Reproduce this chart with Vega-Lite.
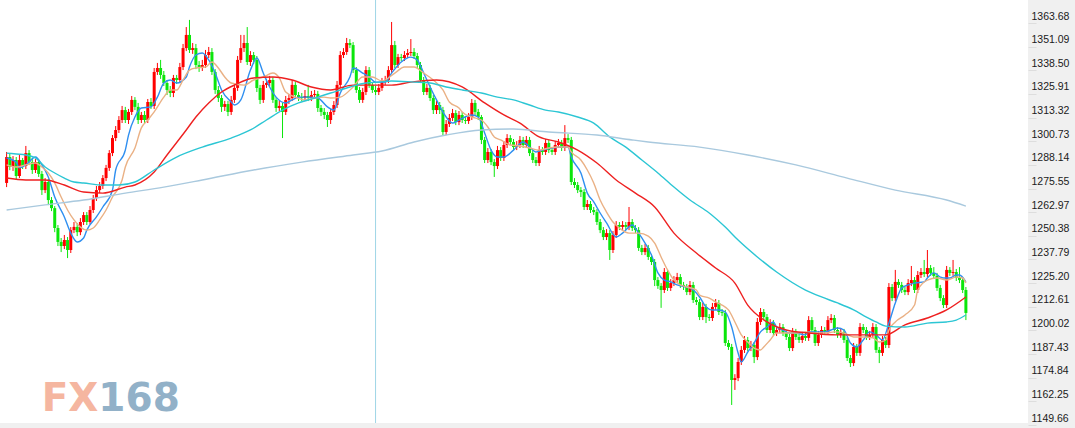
{
  "$schema": "https://vega.github.io/schema/vega-lite/v6.json",
  "width": 1028,
  "height": 423,
  "autosize": {"type": "none"},
  "padding": {"left": 0, "top": 0, "right": 47, "bottom": 5},
  "background": "#f0f0f0",
  "view": {"fill": "#ffffff", "stroke": null},
  "config": {"axis": {"grid": false}},
  "datasets": {
    "candles": [
      {"i":0,"o":1274.8,"h":1291.3,"l":1272.6,"c":1288.6},
      {"i":1,"o":1288.6,"h":1290.2,"l":1281.6,"c":1283.3},
      {"i":2,"o":1283.3,"h":1289.1,"l":1281.2,"c":1287.0},
      {"i":3,"o":1287.0,"h":1288.6,"l":1276.9,"c":1278.5},
      {"i":4,"o":1278.5,"h":1289.7,"l":1277.4,"c":1287.0},
      {"i":5,"o":1287.0,"h":1288.1,"l":1282.2,"c":1283.8},
      {"i":6,"o":1283.8,"h":1294.5,"l":1282.2,"c":1290.7},
      {"i":7,"o":1290.7,"h":1292.3,"l":1284.3,"c":1285.9},
      {"i":8,"o":1285.9,"h":1287.5,"l":1279.6,"c":1281.7},
      {"i":9,"o":1281.7,"h":1287.5,"l":1280.1,"c":1285.9},
      {"i":10,"o":1285.9,"h":1287.0,"l":1278.0,"c":1279.6},
      {"i":11,"o":1279.6,"h":1281.2,"l":1268.4,"c":1271.0},
      {"i":12,"o":1271.0,"h":1277.4,"l":1269.4,"c":1275.3},
      {"i":13,"o":1275.3,"h":1276.9,"l":1263.0,"c":1265.7},
      {"i":14,"o":1265.7,"h":1267.3,"l":1259.8,"c":1261.4},
      {"i":15,"o":1261.4,"h":1262.5,"l":1248.6,"c":1250.8},
      {"i":16,"o":1250.8,"h":1252.4,"l":1241.2,"c":1243.4},
      {"i":17,"o":1243.4,"h":1245.5,"l":1238.0,"c":1241.2},
      {"i":18,"o":1241.2,"h":1247.1,"l":1239.6,"c":1244.4},
      {"i":19,"o":1244.4,"h":1246.0,"l":1234.8,"c":1239.1},
      {"i":20,"o":1239.1,"h":1251.3,"l":1237.5,"c":1249.7},
      {"i":21,"o":1249.7,"h":1254.0,"l":1248.1,"c":1251.4},
      {"i":22,"o":1251.4,"h":1253.5,"l":1246.5,"c":1248.6},
      {"i":23,"o":1248.6,"h":1256.1,"l":1247.0,"c":1254.0},
      {"i":24,"o":1254.0,"h":1259.3,"l":1252.4,"c":1257.7},
      {"i":25,"o":1257.7,"h":1259.3,"l":1252.4,"c":1254.0},
      {"i":26,"o":1254.0,"h":1262.5,"l":1252.9,"c":1260.4},
      {"i":27,"o":1260.4,"h":1268.4,"l":1258.8,"c":1266.8},
      {"i":28,"o":1266.8,"h":1273.2,"l":1265.2,"c":1271.0},
      {"i":29,"o":1271.0,"h":1275.3,"l":1269.4,"c":1273.2},
      {"i":30,"o":1273.2,"h":1279.0,"l":1271.6,"c":1277.4},
      {"i":31,"o":1277.4,"h":1284.4,"l":1275.8,"c":1282.8},
      {"i":32,"o":1282.8,"h":1292.3,"l":1281.2,"c":1290.7},
      {"i":33,"o":1290.7,"h":1300.3,"l":1289.1,"c":1298.7},
      {"i":34,"o":1298.7,"h":1305.1,"l":1297.1,"c":1303.0},
      {"i":35,"o":1303.0,"h":1310.4,"l":1301.4,"c":1308.3},
      {"i":36,"o":1308.3,"h":1315.8,"l":1306.7,"c":1313.6},
      {"i":37,"o":1313.6,"h":1315.3,"l":1306.7,"c":1308.3},
      {"i":38,"o":1308.3,"h":1314.2,"l":1306.2,"c":1312.6},
      {"i":39,"o":1312.6,"h":1321.1,"l":1311.0,"c":1319.0},
      {"i":40,"o":1319.0,"h":1320.5,"l":1313.6,"c":1315.3},
      {"i":41,"o":1315.3,"h":1317.4,"l":1306.2,"c":1308.3},
      {"i":42,"o":1308.3,"h":1312.6,"l":1306.7,"c":1311.0},
      {"i":43,"o":1311.0,"h":1313.1,"l":1306.2,"c":1308.3},
      {"i":44,"o":1308.3,"h":1319.5,"l":1306.7,"c":1317.9},
      {"i":45,"o":1317.9,"h":1320.0,"l":1314.2,"c":1315.8},
      {"i":46,"o":1315.8,"h":1336.0,"l":1314.2,"c":1333.9},
      {"i":47,"o":1333.9,"h":1338.7,"l":1332.3,"c":1336.0},
      {"i":48,"o":1336.0,"h":1340.3,"l":1330.2,"c":1332.3},
      {"i":49,"o":1332.3,"h":1334.4,"l":1326.4,"c":1328.0},
      {"i":50,"o":1328.0,"h":1329.6,"l":1321.6,"c":1324.3},
      {"i":51,"o":1324.3,"h":1326.4,"l":1320.5,"c":1322.7},
      {"i":52,"o":1322.7,"h":1332.3,"l":1320.5,"c":1330.7},
      {"i":53,"o":1330.7,"h":1332.3,"l":1327.5,"c":1329.6},
      {"i":54,"o":1329.6,"h":1338.7,"l":1328.0,"c":1336.5},
      {"i":55,"o":1336.5,"h":1348.8,"l":1334.9,"c":1346.6},
      {"i":56,"o":1346.6,"h":1357.8,"l":1345.0,"c":1353.6},
      {"i":57,"o":1353.6,"h":1361.6,"l":1344.0,"c":1345.6},
      {"i":58,"o":1345.6,"h":1349.3,"l":1343.5,"c":1346.6},
      {"i":59,"o":1346.6,"h":1348.8,"l":1335.4,"c":1337.6},
      {"i":60,"o":1337.6,"h":1339.7,"l":1333.9,"c":1336.0},
      {"i":61,"o":1336.0,"h":1340.3,"l":1334.4,"c":1337.6},
      {"i":62,"o":1337.6,"h":1345.6,"l":1336.0,"c":1342.9},
      {"i":63,"o":1342.9,"h":1347.2,"l":1341.3,"c":1344.5},
      {"i":64,"o":1344.5,"h":1346.6,"l":1332.3,"c":1333.9},
      {"i":65,"o":1333.9,"h":1335.4,"l":1322.2,"c":1324.3},
      {"i":66,"o":1324.3,"h":1326.4,"l":1317.9,"c":1320.0},
      {"i":67,"o":1320.0,"h":1321.6,"l":1312.6,"c":1315.3},
      {"i":68,"o":1315.3,"h":1318.5,"l":1313.1,"c":1316.8},
      {"i":69,"o":1316.8,"h":1318.5,"l":1310.4,"c":1312.6},
      {"i":70,"o":1312.6,"h":1321.1,"l":1311.0,"c":1319.0},
      {"i":71,"o":1319.0,"h":1327.5,"l":1317.4,"c":1325.4},
      {"i":72,"o":1325.4,"h":1342.4,"l":1323.8,"c":1340.3},
      {"i":73,"o":1340.3,"h":1353.6,"l":1338.7,"c":1346.6},
      {"i":74,"o":1346.6,"h":1353.6,"l":1344.5,"c":1349.3},
      {"i":75,"o":1349.3,"h":1357.8,"l":1337.6,"c":1339.2},
      {"i":76,"o":1339.2,"h":1345.0,"l":1337.1,"c":1342.9},
      {"i":77,"o":1342.9,"h":1344.5,"l":1338.1,"c":1340.3},
      {"i":78,"o":1340.3,"h":1342.4,"l":1323.2,"c":1325.4},
      {"i":79,"o":1325.4,"h":1327.0,"l":1316.8,"c":1319.0},
      {"i":80,"o":1319.0,"h":1329.1,"l":1317.4,"c":1327.0},
      {"i":81,"o":1327.0,"h":1330.2,"l":1325.4,"c":1328.0},
      {"i":82,"o":1328.0,"h":1331.8,"l":1326.4,"c":1329.6},
      {"i":83,"o":1329.6,"h":1331.2,"l":1317.4,"c":1319.0},
      {"i":84,"o":1319.0,"h":1320.5,"l":1312.6,"c":1314.7},
      {"i":85,"o":1314.7,"h":1318.5,"l":1313.1,"c":1315.8},
      {"i":86,"o":1315.8,"h":1317.4,"l":1298.7,"c":1312.6},
      {"i":87,"o":1312.6,"h":1321.1,"l":1311.0,"c":1319.0},
      {"i":88,"o":1319.0,"h":1322.2,"l":1316.8,"c":1320.0},
      {"i":89,"o":1320.0,"h":1329.6,"l":1318.4,"c":1327.0},
      {"i":90,"o":1327.0,"h":1328.5,"l":1320.0,"c":1321.6},
      {"i":91,"o":1321.6,"h":1323.2,"l":1318.4,"c":1320.5},
      {"i":92,"o":1320.5,"h":1322.7,"l":1318.4,"c":1320.0},
      {"i":93,"o":1320.0,"h":1324.3,"l":1318.9,"c":1321.1},
      {"i":94,"o":1321.1,"h":1327.0,"l":1318.4,"c":1320.0},
      {"i":95,"o":1320.0,"h":1323.8,"l":1318.4,"c":1321.6},
      {"i":96,"o":1321.6,"h":1324.3,"l":1319.5,"c":1322.2},
      {"i":97,"o":1322.2,"h":1323.8,"l":1312.6,"c":1314.7},
      {"i":98,"o":1314.7,"h":1316.3,"l":1310.4,"c":1312.6},
      {"i":99,"o":1312.6,"h":1314.7,"l":1308.8,"c":1311.0},
      {"i":100,"o":1311.0,"h":1312.6,"l":1304.6,"c":1308.3},
      {"i":101,"o":1308.3,"h":1314.2,"l":1306.2,"c":1312.6},
      {"i":102,"o":1312.6,"h":1318.4,"l":1311.0,"c":1316.3},
      {"i":103,"o":1316.3,"h":1329.1,"l":1314.7,"c":1327.0},
      {"i":104,"o":1327.0,"h":1345.0,"l":1325.4,"c":1342.9},
      {"i":105,"o":1342.9,"h":1346.6,"l":1341.3,"c":1344.5},
      {"i":106,"o":1344.5,"h":1352.0,"l":1343.0,"c":1349.3},
      {"i":107,"o":1349.3,"h":1351.4,"l":1346.6,"c":1348.2},
      {"i":108,"o":1348.2,"h":1349.8,"l":1333.3,"c":1334.9},
      {"i":109,"o":1334.9,"h":1336.5,"l":1322.7,"c":1324.3},
      {"i":110,"o":1324.3,"h":1325.9,"l":1317.4,"c":1319.0},
      {"i":111,"o":1319.0,"h":1325.4,"l":1317.4,"c":1323.2},
      {"i":112,"o":1323.2,"h":1337.0,"l":1321.6,"c":1334.9},
      {"i":113,"o":1334.9,"h":1336.5,"l":1325.4,"c":1327.0},
      {"i":114,"o":1327.0,"h":1328.5,"l":1322.7,"c":1324.3},
      {"i":115,"o":1324.3,"h":1326.4,"l":1321.6,"c":1323.2},
      {"i":116,"o":1323.2,"h":1327.5,"l":1321.6,"c":1325.4},
      {"i":117,"o":1325.4,"h":1330.7,"l":1323.8,"c":1328.5},
      {"i":118,"o":1328.5,"h":1331.8,"l":1326.9,"c":1329.6},
      {"i":119,"o":1329.6,"h":1337.0,"l":1328.0,"c":1334.9},
      {"i":120,"o":1334.9,"h":1360.5,"l":1333.3,"c":1348.2},
      {"i":121,"o":1348.2,"h":1350.4,"l":1336.0,"c":1337.6},
      {"i":122,"o":1337.6,"h":1343.5,"l":1336.0,"c":1341.8},
      {"i":123,"o":1341.8,"h":1343.5,"l":1339.7,"c":1341.3},
      {"i":124,"o":1341.3,"h":1345.0,"l":1339.7,"c":1342.9},
      {"i":125,"o":1342.9,"h":1346.1,"l":1341.3,"c":1344.0},
      {"i":126,"o":1344.0,"h":1351.4,"l":1342.4,"c":1344.5},
      {"i":127,"o":1344.5,"h":1346.6,"l":1340.8,"c":1342.4},
      {"i":128,"o":1342.4,"h":1344.0,"l":1336.0,"c":1337.6},
      {"i":129,"o":1337.6,"h":1339.2,"l":1328.0,"c":1329.6},
      {"i":130,"o":1329.6,"h":1331.2,"l":1321.6,"c":1323.2},
      {"i":131,"o":1323.2,"h":1327.5,"l":1321.6,"c":1325.4},
      {"i":132,"o":1325.4,"h":1327.0,"l":1318.4,"c":1320.0},
      {"i":133,"o":1320.0,"h":1321.6,"l":1311.5,"c":1313.6},
      {"i":134,"o":1313.6,"h":1318.4,"l":1311.5,"c":1316.3},
      {"i":135,"o":1316.3,"h":1317.9,"l":1311.5,"c":1313.6},
      {"i":136,"o":1313.6,"h":1315.3,"l":1300.3,"c":1301.9},
      {"i":137,"o":1301.9,"h":1308.3,"l":1300.3,"c":1306.2},
      {"i":138,"o":1306.2,"h":1311.5,"l":1304.6,"c":1309.4},
      {"i":139,"o":1309.4,"h":1314.2,"l":1307.8,"c":1312.0},
      {"i":140,"o":1312.0,"h":1313.6,"l":1305.6,"c":1307.2},
      {"i":141,"o":1307.2,"h":1313.1,"l":1305.6,"c":1311.0},
      {"i":142,"o":1311.0,"h":1312.6,"l":1306.7,"c":1308.3},
      {"i":143,"o":1308.3,"h":1310.4,"l":1306.2,"c":1307.8},
      {"i":144,"o":1307.8,"h":1312.0,"l":1306.2,"c":1309.9},
      {"i":145,"o":1309.9,"h":1319.5,"l":1308.3,"c":1317.4},
      {"i":146,"o":1317.4,"h":1319.0,"l":1311.0,"c":1312.6},
      {"i":147,"o":1312.6,"h":1314.2,"l":1308.3,"c":1309.9},
      {"i":148,"o":1309.9,"h":1311.0,"l":1295.5,"c":1297.7},
      {"i":149,"o":1297.7,"h":1299.3,"l":1285.4,"c":1287.0},
      {"i":150,"o":1287.0,"h":1293.4,"l":1285.4,"c":1291.3},
      {"i":151,"o":1291.3,"h":1292.9,"l":1284.3,"c":1285.9},
      {"i":152,"o":1285.9,"h":1287.5,"l":1278.0,"c":1283.8},
      {"i":153,"o":1283.8,"h":1294.5,"l":1282.2,"c":1292.3},
      {"i":154,"o":1292.3,"h":1293.9,"l":1286.5,"c":1288.1},
      {"i":155,"o":1288.1,"h":1297.1,"l":1286.5,"c":1295.0},
      {"i":156,"o":1295.0,"h":1300.8,"l":1293.4,"c":1298.7},
      {"i":157,"o":1298.7,"h":1300.3,"l":1295.0,"c":1296.6},
      {"i":158,"o":1296.6,"h":1298.2,"l":1292.3,"c":1293.9},
      {"i":159,"o":1293.9,"h":1297.1,"l":1292.3,"c":1295.0},
      {"i":160,"o":1295.0,"h":1299.8,"l":1293.4,"c":1297.7},
      {"i":161,"o":1297.7,"h":1299.3,"l":1293.4,"c":1295.0},
      {"i":162,"o":1295.0,"h":1299.8,"l":1293.4,"c":1297.7},
      {"i":163,"o":1297.7,"h":1299.3,"l":1289.1,"c":1290.7},
      {"i":164,"o":1290.7,"h":1292.3,"l":1285.4,"c":1287.0},
      {"i":165,"o":1287.0,"h":1288.6,"l":1283.8,"c":1285.4},
      {"i":166,"o":1285.4,"h":1294.5,"l":1283.8,"c":1292.3},
      {"i":167,"o":1292.3,"h":1293.9,"l":1289.7,"c":1291.3},
      {"i":168,"o":1291.3,"h":1298.2,"l":1289.7,"c":1296.1},
      {"i":169,"o":1296.1,"h":1297.7,"l":1290.7,"c":1292.3},
      {"i":170,"o":1292.3,"h":1293.9,"l":1289.7,"c":1291.3},
      {"i":171,"o":1291.3,"h":1297.1,"l":1289.7,"c":1295.0},
      {"i":172,"o":1295.0,"h":1298.2,"l":1293.4,"c":1296.1},
      {"i":173,"o":1296.1,"h":1297.7,"l":1291.8,"c":1293.4},
      {"i":174,"o":1293.4,"h":1305.6,"l":1291.8,"c":1298.7},
      {"i":175,"o":1298.7,"h":1300.8,"l":1296.1,"c":1297.7},
      {"i":176,"o":1297.7,"h":1299.3,"l":1273.7,"c":1275.3},
      {"i":177,"o":1275.3,"h":1277.4,"l":1272.1,"c":1273.7},
      {"i":178,"o":1273.7,"h":1275.3,"l":1269.4,"c":1271.0},
      {"i":179,"o":1271.0,"h":1272.6,"l":1267.3,"c":1270.0},
      {"i":180,"o":1270.0,"h":1271.6,"l":1260.4,"c":1262.0},
      {"i":181,"o":1262.0,"h":1265.7,"l":1260.4,"c":1263.6},
      {"i":182,"o":1263.6,"h":1265.2,"l":1258.8,"c":1260.4},
      {"i":183,"o":1260.4,"h":1262.0,"l":1257.7,"c":1259.3},
      {"i":184,"o":1259.3,"h":1260.9,"l":1252.4,"c":1254.0},
      {"i":185,"o":1254.0,"h":1255.6,"l":1248.1,"c":1249.7},
      {"i":186,"o":1249.7,"h":1251.3,"l":1244.4,"c":1246.0},
      {"i":187,"o":1246.0,"h":1250.2,"l":1244.4,"c":1248.1},
      {"i":188,"o":1248.1,"h":1249.7,"l":1233.8,"c":1239.1},
      {"i":189,"o":1239.1,"h":1249.2,"l":1237.5,"c":1247.1},
      {"i":190,"o":1247.1,"h":1254.5,"l":1245.5,"c":1252.4},
      {"i":191,"o":1252.4,"h":1254.0,"l":1249.7,"c":1251.4},
      {"i":192,"o":1251.4,"h":1254.5,"l":1249.7,"c":1252.4},
      {"i":193,"o":1252.4,"h":1254.0,"l":1249.7,"c":1251.4},
      {"i":194,"o":1251.4,"h":1262.0,"l":1249.7,"c":1254.0},
      {"i":195,"o":1254.0,"h":1255.6,"l":1249.2,"c":1250.8},
      {"i":196,"o":1250.8,"h":1252.4,"l":1248.1,"c":1249.7},
      {"i":197,"o":1249.7,"h":1251.3,"l":1238.6,"c":1240.2},
      {"i":198,"o":1240.2,"h":1241.8,"l":1236.4,"c":1238.0},
      {"i":199,"o":1238.0,"h":1242.3,"l":1236.4,"c":1240.2},
      {"i":200,"o":1240.2,"h":1241.8,"l":1233.8,"c":1235.4},
      {"i":201,"o":1235.4,"h":1237.0,"l":1231.1,"c":1232.7},
      {"i":202,"o":1232.7,"h":1234.3,"l":1219.9,"c":1223.1},
      {"i":203,"o":1223.1,"h":1224.7,"l":1218.4,"c":1220.0},
      {"i":204,"o":1220.0,"h":1221.5,"l":1208.3,"c":1217.8},
      {"i":205,"o":1217.8,"h":1229.5,"l":1216.2,"c":1227.4},
      {"i":206,"o":1227.4,"h":1229.0,"l":1217.3,"c":1218.9},
      {"i":207,"o":1218.9,"h":1223.6,"l":1217.3,"c":1221.5},
      {"i":208,"o":1221.5,"h":1225.2,"l":1219.9,"c":1223.1},
      {"i":209,"o":1223.1,"h":1226.9,"l":1221.5,"c":1224.7},
      {"i":210,"o":1224.7,"h":1226.3,"l":1218.9,"c":1220.5},
      {"i":211,"o":1220.5,"h":1222.1,"l":1217.8,"c":1219.4},
      {"i":212,"o":1219.4,"h":1221.0,"l":1215.1,"c":1216.7},
      {"i":213,"o":1216.7,"h":1222.6,"l":1215.1,"c":1220.5},
      {"i":214,"o":1220.5,"h":1222.1,"l":1210.9,"c":1212.5},
      {"i":215,"o":1212.5,"h":1214.1,"l":1209.8,"c":1211.4},
      {"i":216,"o":1211.4,"h":1213.0,"l":1201.8,"c":1203.4},
      {"i":217,"o":1203.4,"h":1210.9,"l":1201.8,"c":1208.8},
      {"i":218,"o":1208.8,"h":1210.4,"l":1200.2,"c":1203.4},
      {"i":219,"o":1203.4,"h":1205.0,"l":1201.3,"c":1202.9},
      {"i":220,"o":1202.9,"h":1210.9,"l":1201.3,"c":1208.8},
      {"i":221,"o":1208.8,"h":1213.0,"l":1207.2,"c":1210.9},
      {"i":222,"o":1210.9,"h":1212.5,"l":1204.5,"c":1206.1},
      {"i":223,"o":1206.1,"h":1207.7,"l":1203.9,"c":1205.6},
      {"i":224,"o":1205.6,"h":1207.2,"l":1188.0,"c":1189.6},
      {"i":225,"o":1189.6,"h":1191.2,"l":1185.9,"c":1187.5},
      {"i":226,"o":1187.5,"h":1189.1,"l":1156.6,"c":1169.9},
      {"i":227,"o":1169.9,"h":1173.0,"l":1164.6,"c":1170.9},
      {"i":228,"o":1170.9,"h":1181.6,"l":1169.3,"c":1179.5},
      {"i":229,"o":1179.5,"h":1188.0,"l":1177.9,"c":1185.9},
      {"i":230,"o":1185.9,"h":1193.3,"l":1184.3,"c":1191.2},
      {"i":231,"o":1191.2,"h":1192.8,"l":1185.3,"c":1186.9},
      {"i":232,"o":1186.9,"h":1190.7,"l":1185.3,"c":1188.5},
      {"i":233,"o":1188.5,"h":1190.1,"l":1178.9,"c":1182.1},
      {"i":234,"o":1182.1,"h":1202.9,"l":1180.5,"c":1200.8},
      {"i":235,"o":1200.8,"h":1208.2,"l":1199.2,"c":1206.1},
      {"i":236,"o":1206.1,"h":1207.7,"l":1201.8,"c":1203.4},
      {"i":237,"o":1203.4,"h":1205.0,"l":1194.9,"c":1196.5},
      {"i":238,"o":1196.5,"h":1202.3,"l":1194.9,"c":1200.2},
      {"i":239,"o":1200.2,"h":1201.8,"l":1193.3,"c":1194.9},
      {"i":240,"o":1194.9,"h":1198.6,"l":1193.3,"c":1196.5},
      {"i":241,"o":1196.5,"h":1200.2,"l":1194.9,"c":1198.1},
      {"i":242,"o":1198.1,"h":1199.7,"l":1193.3,"c":1194.9},
      {"i":243,"o":1194.9,"h":1196.5,"l":1191.2,"c":1192.8},
      {"i":244,"o":1192.8,"h":1194.4,"l":1185.3,"c":1186.9},
      {"i":245,"o":1186.9,"h":1197.6,"l":1185.3,"c":1195.5},
      {"i":246,"o":1195.5,"h":1197.1,"l":1191.2,"c":1192.8},
      {"i":247,"o":1192.8,"h":1194.4,"l":1189.6,"c":1191.2},
      {"i":248,"o":1191.2,"h":1195.5,"l":1189.6,"c":1193.3},
      {"i":249,"o":1193.3,"h":1194.9,"l":1190.7,"c":1192.3},
      {"i":250,"o":1192.3,"h":1203.9,"l":1190.7,"c":1201.8},
      {"i":251,"o":1201.8,"h":1203.4,"l":1194.9,"c":1196.5},
      {"i":252,"o":1196.5,"h":1198.1,"l":1188.0,"c":1189.6},
      {"i":253,"o":1189.6,"h":1196.0,"l":1188.0,"c":1193.9},
      {"i":254,"o":1193.9,"h":1198.6,"l":1192.3,"c":1196.5},
      {"i":255,"o":1196.5,"h":1198.1,"l":1193.9,"c":1195.5},
      {"i":256,"o":1195.5,"h":1203.9,"l":1193.9,"c":1201.8},
      {"i":257,"o":1201.8,"h":1205.0,"l":1200.2,"c":1202.9},
      {"i":258,"o":1202.9,"h":1204.5,"l":1194.9,"c":1196.5},
      {"i":259,"o":1196.5,"h":1198.1,"l":1192.3,"c":1193.9},
      {"i":260,"o":1193.9,"h":1197.6,"l":1192.3,"c":1195.5},
      {"i":261,"o":1195.5,"h":1197.1,"l":1189.6,"c":1191.2},
      {"i":262,"o":1191.2,"h":1192.8,"l":1180.0,"c":1181.6},
      {"i":263,"o":1181.6,"h":1183.2,"l":1176.8,"c":1178.9},
      {"i":264,"o":1178.9,"h":1189.6,"l":1177.3,"c":1187.5},
      {"i":265,"o":1187.5,"h":1189.1,"l":1182.7,"c":1184.3},
      {"i":266,"o":1184.3,"h":1200.2,"l":1182.7,"c":1198.1},
      {"i":267,"o":1198.1,"h":1199.7,"l":1194.9,"c":1196.5},
      {"i":268,"o":1196.5,"h":1198.1,"l":1191.2,"c":1192.8},
      {"i":269,"o":1192.8,"h":1196.0,"l":1191.2,"c":1193.9},
      {"i":270,"o":1193.9,"h":1200.2,"l":1192.3,"c":1198.1},
      {"i":271,"o":1198.1,"h":1199.7,"l":1184.3,"c":1185.9},
      {"i":272,"o":1185.9,"h":1187.5,"l":1178.9,"c":1184.3},
      {"i":273,"o":1184.3,"h":1193.3,"l":1182.7,"c":1191.2},
      {"i":274,"o":1191.2,"h":1192.8,"l":1186.9,"c":1188.5},
      {"i":275,"o":1188.5,"h":1221.5,"l":1186.9,"c":1219.4},
      {"i":276,"o":1219.4,"h":1221.0,"l":1211.9,"c":1213.5},
      {"i":277,"o":1213.5,"h":1228.5,"l":1211.9,"c":1222.1},
      {"i":278,"o":1222.1,"h":1223.6,"l":1218.9,"c":1220.5},
      {"i":279,"o":1220.5,"h":1222.1,"l":1216.2,"c":1217.8},
      {"i":280,"o":1217.8,"h":1219.4,"l":1215.1,"c":1216.7},
      {"i":281,"o":1216.7,"h":1223.6,"l":1215.1,"c":1221.5},
      {"i":282,"o":1221.5,"h":1230.6,"l":1219.9,"c":1223.1},
      {"i":283,"o":1223.1,"h":1224.7,"l":1216.2,"c":1217.8},
      {"i":284,"o":1217.8,"h":1227.9,"l":1216.2,"c":1225.8},
      {"i":285,"o":1225.8,"h":1229.5,"l":1224.2,"c":1227.4},
      {"i":286,"o":1227.4,"h":1233.8,"l":1224.7,"c":1226.3},
      {"i":287,"o":1226.3,"h":1239.1,"l":1224.7,"c":1229.5},
      {"i":288,"o":1229.5,"h":1231.1,"l":1225.3,"c":1226.9},
      {"i":289,"o":1226.9,"h":1230.0,"l":1223.7,"c":1225.3},
      {"i":290,"o":1225.3,"h":1226.9,"l":1217.3,"c":1218.9},
      {"i":291,"o":1218.9,"h":1220.5,"l":1211.9,"c":1213.5},
      {"i":292,"o":1213.5,"h":1215.1,"l":1208.2,"c":1209.8},
      {"i":293,"o":1209.8,"h":1230.6,"l":1208.2,"c":1228.5},
      {"i":294,"o":1228.5,"h":1230.0,"l":1225.3,"c":1226.9},
      {"i":295,"o":1226.9,"h":1233.8,"l":1225.3,"c":1227.4},
      {"i":296,"o":1227.4,"h":1229.0,"l":1222.6,"c":1224.2},
      {"i":297,"o":1224.2,"h":1230.0,"l":1221.5,"c":1223.1},
      {"i":298,"o":1223.1,"h":1224.7,"l":1216.2,"c":1217.8},
      {"i":299,"o":1217.8,"h":1219.4,"l":1201.8,"c":1205.6}
    ],
    "ma": [
      {"s":"MA5","i":0,"v":1288.1},{"s":"MA5","i":3,"v":1285.9},{"s":"MA5","i":4,"v":1282.8},{"s":"MA5","i":6,"v":1284.4},{"s":"MA5","i":9,"v":1288.6},{"s":"MA5","i":11,"v":1284.4},{"s":"MA5","i":13,"v":1278.0},{"s":"MA5","i":15,"v":1267.3},{"s":"MA5","i":18,"v":1256.7},{"s":"MA5","i":20,"v":1248.1},{"s":"MA5","i":22,"v":1243.4},{"s":"MA5","i":24,"v":1245.5},{"s":"MA5","i":25,"v":1249.7},{"s":"MA5","i":28,"v":1256.7},{"s":"MA5","i":30,"v":1262.0},{"s":"MA5","i":33,"v":1271.0},{"s":"MA5","i":34,"v":1281.7},{"s":"MA5","i":37,"v":1292.3},{"s":"MA5","i":38,"v":1300.3},{"s":"MA5","i":40,"v":1309.9},{"s":"MA5","i":42,"v":1314.7},{"s":"MA5","i":45,"v":1315.3},{"s":"MA5","i":47,"v":1320.5},{"s":"MA5","i":49,"v":1328.0},{"s":"MA5","i":51,"v":1329.6},{"s":"MA5","i":53,"v":1328.0},{"s":"MA5","i":56,"v":1331.2},{"s":"MA5","i":57,"v":1336.5},{"s":"MA5","i":59,"v":1342.9},{"s":"MA5","i":61,"v":1344.0},{"s":"MA5","i":63,"v":1340.3},{"s":"MA5","i":65,"v":1333.3},{"s":"MA5","i":67,"v":1324.3},{"s":"MA5","i":70,"v":1317.9},{"s":"MA5","i":71,"v":1316.3},{"s":"MA5","i":73,"v":1319.0},{"s":"MA5","i":76,"v":1334.9},{"s":"MA5","i":78,"v":1341.3},{"s":"MA5","i":80,"v":1333.3},{"s":"MA5","i":82,"v":1325.9},{"s":"MA5","i":84,"v":1320.5},{"s":"MA5","i":87,"v":1317.4},{"s":"MA5","i":89,"v":1319.0},{"s":"MA5","i":91,"v":1320.5},{"s":"MA5","i":94,"v":1320.5},{"s":"MA5","i":97,"v":1320.0},{"s":"MA5","i":100,"v":1315.3},{"s":"MA5","i":102,"v":1313.6},{"s":"MA5","i":104,"v":1322.7},{"s":"MA5","i":107,"v":1331.2},{"s":"MA5","i":108,"v":1336.0},{"s":"MA5","i":111,"v":1333.3},{"s":"MA5","i":113,"v":1331.2},{"s":"MA5","i":115,"v":1328.5},{"s":"MA5","i":118,"v":1328.5},{"s":"MA5","i":120,"v":1333.3},{"s":"MA5","i":123,"v":1339.2},{"s":"MA5","i":126,"v":1341.8},{"s":"MA5","i":128,"v":1340.3},{"s":"MA5","i":130,"v":1333.3},{"s":"MA5","i":132,"v":1325.9},{"s":"MA5","i":134,"v":1319.0},{"s":"MA5","i":137,"v":1309.9},{"s":"MA5","i":139,"v":1306.7},{"s":"MA5","i":141,"v":1308.3},{"s":"MA5","i":145,"v":1311.0},{"s":"MA5","i":147,"v":1309.9},{"s":"MA5","i":149,"v":1301.4},{"s":"MA5","i":151,"v":1292.3},{"s":"MA5","i":153,"v":1288.6},{"s":"MA5","i":155,"v":1288.6},{"s":"MA5","i":158,"v":1292.3},{"s":"MA5","i":161,"v":1296.6},{"s":"MA5","i":163,"v":1293.9},{"s":"MA5","i":165,"v":1291.3},{"s":"MA5","i":167,"v":1292.3},{"s":"MA5","i":170,"v":1293.4},{"s":"MA5","i":173,"v":1293.9},{"s":"MA5","i":175,"v":1293.9},{"s":"MA5","i":176,"v":1288.6},{"s":"MA5","i":179,"v":1280.1},{"s":"MA5","i":181,"v":1269.4},{"s":"MA5","i":183,"v":1264.7},{"s":"MA5","i":185,"v":1258.8},{"s":"MA5","i":187,"v":1253.5},{"s":"MA5","i":190,"v":1246.0},{"s":"MA5","i":192,"v":1248.1},{"s":"MA5","i":195,"v":1252.4},{"s":"MA5","i":197,"v":1248.1},{"s":"MA5","i":199,"v":1242.8},{"s":"MA5","i":201,"v":1236.4},{"s":"MA5","i":203,"v":1226.9},{"s":"MA5","i":205,"v":1223.1},{"s":"MA5","i":207,"v":1222.1},{"s":"MA5","i":209,"v":1220.5},{"s":"MA5","i":212,"v":1219.4},{"s":"MA5","i":213,"v":1218.9},{"s":"MA5","i":216,"v":1214.1},{"s":"MA5","i":218,"v":1208.8},{"s":"MA5","i":220,"v":1207.2},{"s":"MA5","i":222,"v":1207.2},{"s":"MA5","i":224,"v":1206.1},{"s":"MA5","i":226,"v":1198.1},{"s":"MA5","i":228,"v":1184.3},{"s":"MA5","i":229,"v":1179.5},{"s":"MA5","i":231,"v":1184.8},{"s":"MA5","i":233,"v":1189.6},{"s":"MA5","i":235,"v":1195.5},{"s":"MA5","i":237,"v":1198.1},{"s":"MA5","i":239,"v":1200.8},{"s":"MA5","i":240,"v":1198.1},{"s":"MA5","i":242,"v":1196.5},{"s":"MA5","i":244,"v":1194.9},{"s":"MA5","i":246,"v":1194.9},{"s":"MA5","i":249,"v":1193.9},{"s":"MA5","i":250,"v":1195.5},{"s":"MA5","i":253,"v":1195.5},{"s":"MA5","i":255,"v":1195.5},{"s":"MA5","i":257,"v":1196.5},{"s":"MA5","i":259,"v":1197.6},{"s":"MA5","i":261,"v":1196.5},{"s":"MA5","i":263,"v":1189.6},{"s":"MA5","i":265,"v":1187.5},{"s":"MA5","i":267,"v":1191.2},{"s":"MA5","i":269,"v":1195.5},{"s":"MA5","i":271,"v":1193.9},{"s":"MA5","i":273,"v":1191.2},{"s":"MA5","i":275,"v":1200.2},{"s":"MA5","i":277,"v":1210.9},{"s":"MA5","i":279,"v":1218.9},{"s":"MA5","i":281,"v":1220.5},{"s":"MA5","i":283,"v":1221.5},{"s":"MA5","i":286,"v":1222.1},{"s":"MA5","i":287,"v":1224.2},{"s":"MA5","i":289,"v":1226.9},{"s":"MA5","i":291,"v":1224.7},{"s":"MA5","i":292,"v":1224.2},{"s":"MA5","i":294,"v":1224.2},{"s":"MA5","i":296,"v":1225.8},{"s":"MA5","i":297,"v":1225.8},{"s":"MA5","i":299,"v":1222.1},
      {"s":"MA10","i":0,"v":1284.4},{"s":"MA10","i":3,"v":1283.3},{"s":"MA10","i":6,"v":1284.4},{"s":"MA10","i":9,"v":1285.4},{"s":"MA10","i":11,"v":1283.3},{"s":"MA10","i":13,"v":1280.1},{"s":"MA10","i":15,"v":1274.8},{"s":"MA10","i":17,"v":1267.3},{"s":"MA10","i":19,"v":1260.4},{"s":"MA10","i":21,"v":1255.1},{"s":"MA10","i":23,"v":1251.3},{"s":"MA10","i":25,"v":1249.7},{"s":"MA10","i":27,"v":1250.8},{"s":"MA10","i":29,"v":1255.1},{"s":"MA10","i":31,"v":1260.4},{"s":"MA10","i":33,"v":1267.3},{"s":"MA10","i":36,"v":1276.4},{"s":"MA10","i":37,"v":1283.3},{"s":"MA10","i":40,"v":1293.4},{"s":"MA10","i":42,"v":1304.1},{"s":"MA10","i":44,"v":1308.3},{"s":"MA10","i":46,"v":1312.6},{"s":"MA10","i":49,"v":1320.5},{"s":"MA10","i":51,"v":1324.3},{"s":"MA10","i":53,"v":1324.3},{"s":"MA10","i":55,"v":1329.6},{"s":"MA10","i":57,"v":1334.9},{"s":"MA10","i":59,"v":1336.0},{"s":"MA10","i":62,"v":1336.5},{"s":"MA10","i":64,"v":1339.2},{"s":"MA10","i":66,"v":1336.0},{"s":"MA10","i":68,"v":1331.2},{"s":"MA10","i":70,"v":1328.0},{"s":"MA10","i":74,"v":1326.9},{"s":"MA10","i":77,"v":1329.6},{"s":"MA10","i":80,"v":1331.2},{"s":"MA10","i":83,"v":1333.3},{"s":"MA10","i":85,"v":1330.7},{"s":"MA10","i":87,"v":1323.2},{"s":"MA10","i":90,"v":1320.5},{"s":"MA10","i":93,"v":1319.0},{"s":"MA10","i":96,"v":1320.0},{"s":"MA10","i":99,"v":1320.5},{"s":"MA10","i":101,"v":1320.0},{"s":"MA10","i":104,"v":1320.5},{"s":"MA10","i":108,"v":1325.9},{"s":"MA10","i":111,"v":1331.2},{"s":"MA10","i":114,"v":1331.2},{"s":"MA10","i":117,"v":1329.1},{"s":"MA10","i":121,"v":1333.3},{"s":"MA10","i":124,"v":1336.5},{"s":"MA10","i":127,"v":1336.5},{"s":"MA10","i":130,"v":1333.3},{"s":"MA10","i":133,"v":1329.6},{"s":"MA10","i":136,"v":1324.3},{"s":"MA10","i":138,"v":1317.9},{"s":"MA10","i":141,"v":1314.7},{"s":"MA10","i":142,"v":1312.6},{"s":"MA10","i":145,"v":1309.9},{"s":"MA10","i":148,"v":1308.3},{"s":"MA10","i":150,"v":1304.6},{"s":"MA10","i":152,"v":1299.3},{"s":"MA10","i":154,"v":1297.7},{"s":"MA10","i":157,"v":1295.0},{"s":"MA10","i":160,"v":1294.5},{"s":"MA10","i":163,"v":1293.4},{"s":"MA10","i":166,"v":1292.3},{"s":"MA10","i":169,"v":1293.4},{"s":"MA10","i":172,"v":1293.9},{"s":"MA10","i":175,"v":1293.9},{"s":"MA10","i":176,"v":1291.3},{"s":"MA10","i":179,"v":1287.0},{"s":"MA10","i":181,"v":1281.7},{"s":"MA10","i":183,"v":1274.8},{"s":"MA10","i":185,"v":1265.7},{"s":"MA10","i":187,"v":1259.3},{"s":"MA10","i":189,"v":1254.0},{"s":"MA10","i":191,"v":1250.8},{"s":"MA10","i":194,"v":1248.1},{"s":"MA10","i":197,"v":1248.1},{"s":"MA10","i":200,"v":1246.5},{"s":"MA10","i":202,"v":1242.8},{"s":"MA10","i":204,"v":1235.4},{"s":"MA10","i":206,"v":1228.5},{"s":"MA10","i":208,"v":1223.1},{"s":"MA10","i":210,"v":1220.5},{"s":"MA10","i":212,"v":1219.4},{"s":"MA10","i":215,"v":1217.8},{"s":"MA10","i":216,"v":1215.1},{"s":"MA10","i":219,"v":1213.5},{"s":"MA10","i":221,"v":1211.4},{"s":"MA10","i":223,"v":1209.8},{"s":"MA10","i":225,"v":1207.2},{"s":"MA10","i":227,"v":1200.8},{"s":"MA10","i":229,"v":1193.9},{"s":"MA10","i":231,"v":1190.1},{"s":"MA10","i":233,"v":1186.9},{"s":"MA10","i":235,"v":1185.9},{"s":"MA10","i":236,"v":1187.5},{"s":"MA10","i":238,"v":1191.2},{"s":"MA10","i":240,"v":1194.9},{"s":"MA10","i":243,"v":1194.9},{"s":"MA10","i":246,"v":1194.9},{"s":"MA10","i":249,"v":1195.5},{"s":"MA10","i":252,"v":1194.9},{"s":"MA10","i":255,"v":1194.9},{"s":"MA10","i":258,"v":1195.5},{"s":"MA10","i":261,"v":1194.9},{"s":"MA10","i":264,"v":1192.8},{"s":"MA10","i":267,"v":1192.8},{"s":"MA10","i":270,"v":1192.3},{"s":"MA10","i":272,"v":1190.1},{"s":"MA10","i":274,"v":1191.2},{"s":"MA10","i":275,"v":1196.5},{"s":"MA10","i":277,"v":1200.8},{"s":"MA10","i":280,"v":1204.5},{"s":"MA10","i":283,"v":1209.8},{"s":"MA10","i":284,"v":1217.8},{"s":"MA10","i":287,"v":1223.1},{"s":"MA10","i":290,"v":1224.2},{"s":"MA10","i":293,"v":1223.1},{"s":"MA10","i":296,"v":1224.7},{"s":"MA10","i":298,"v":1224.2},{"s":"MA10","i":299,"v":1221.5},
      {"s":"MA20","i":0,"v":1277.4},{"s":"MA20","i":6,"v":1276.4},{"s":"MA20","i":12,"v":1276.4},{"s":"MA20","i":18,"v":1273.7},{"s":"MA20","i":24,"v":1270.0},{"s":"MA20","i":30,"v":1269.4},{"s":"MA20","i":37,"v":1272.6},{"s":"MA20","i":40,"v":1273.7},{"s":"MA20","i":46,"v":1280.6},{"s":"MA20","i":50,"v":1289.7},{"s":"MA20","i":56,"v":1303.0},{"s":"MA20","i":59,"v":1309.9},{"s":"MA20","i":63,"v":1317.4},{"s":"MA20","i":67,"v":1323.2},{"s":"MA20","i":71,"v":1326.9},{"s":"MA20","i":77,"v":1330.7},{"s":"MA20","i":83,"v":1331.2},{"s":"MA20","i":89,"v":1329.6},{"s":"MA20","i":95,"v":1325.9},{"s":"MA20","i":101,"v":1324.3},{"s":"MA20","i":108,"v":1326.9},{"s":"MA20","i":114,"v":1326.9},{"s":"MA20","i":120,"v":1326.9},{"s":"MA20","i":126,"v":1328.5},{"s":"MA20","i":134,"v":1329.6},{"s":"MA20","i":142,"v":1325.9},{"s":"MA20","i":149,"v":1317.4},{"s":"MA20","i":155,"v":1311.0},{"s":"MA20","i":160,"v":1306.7},{"s":"MA20","i":166,"v":1299.3},{"s":"MA20","i":172,"v":1296.6},{"s":"MA20","i":178,"v":1292.3},{"s":"MA20","i":184,"v":1285.4},{"s":"MA20","i":190,"v":1276.4},{"s":"MA20","i":196,"v":1269.4},{"s":"MA20","i":202,"v":1262.0},{"s":"MA20","i":208,"v":1248.1},{"s":"MA20","i":215,"v":1237.5},{"s":"MA20","i":221,"v":1229.5},{"s":"MA20","i":227,"v":1221.5},{"s":"MA20","i":231,"v":1209.8},{"s":"MA20","i":237,"v":1200.8},{"s":"MA20","i":243,"v":1196.5},{"s":"MA20","i":250,"v":1194.9},{"s":"MA20","i":259,"v":1193.9},{"s":"MA20","i":268,"v":1193.9},{"s":"MA20","i":274,"v":1193.9},{"s":"MA20","i":280,"v":1199.2},{"s":"MA20","i":287,"v":1202.9},{"s":"MA20","i":293,"v":1207.2},{"s":"MA20","i":299,"v":1214.1},
      {"s":"MA60","i":0,"v":1290.7},{"s":"MA60","i":3,"v":1290.2},{"s":"MA60","i":6,"v":1289.7},{"s":"MA60","i":9,"v":1288.1},{"s":"MA60","i":12,"v":1283.3},{"s":"MA60","i":15,"v":1280.1},{"s":"MA60","i":18,"v":1277.4},{"s":"MA60","i":21,"v":1275.3},{"s":"MA60","i":24,"v":1274.8},{"s":"MA60","i":30,"v":1273.7},{"s":"MA60","i":35,"v":1273.7},{"s":"MA60","i":40,"v":1275.3},{"s":"MA60","i":46,"v":1281.7},{"s":"MA60","i":53,"v":1288.6},{"s":"MA60","i":61,"v":1293.9},{"s":"MA60","i":70,"v":1298.7},{"s":"MA60","i":76,"v":1303.0},{"s":"MA60","i":81,"v":1308.3},{"s":"MA60","i":86,"v":1313.6},{"s":"MA60","i":91,"v":1317.4},{"s":"MA60","i":96,"v":1320.0},{"s":"MA60","i":101,"v":1322.7},{"s":"MA60","i":107,"v":1325.9},{"s":"MA60","i":112,"v":1328.0},{"s":"MA60","i":116,"v":1328.5},{"s":"MA60","i":120,"v":1329.1},{"s":"MA60","i":127,"v":1328.5},{"s":"MA60","i":132,"v":1328.0},{"s":"MA60","i":137,"v":1325.9},{"s":"MA60","i":142,"v":1324.3},{"s":"MA60","i":148,"v":1322.7},{"s":"MA60","i":153,"v":1320.5},{"s":"MA60","i":158,"v":1319.0},{"s":"MA60","i":163,"v":1316.3},{"s":"MA60","i":168,"v":1313.6},{"s":"MA60","i":172,"v":1312.6},{"s":"MA60","i":178,"v":1309.9},{"s":"MA60","i":183,"v":1306.7},{"s":"MA60","i":188,"v":1299.3},{"s":"MA60","i":193,"v":1293.9},{"s":"MA60","i":198,"v":1287.0},{"s":"MA60","i":203,"v":1280.1},{"s":"MA60","i":208,"v":1272.6},{"s":"MA60","i":213,"v":1265.7},{"s":"MA60","i":219,"v":1258.8},{"s":"MA60","i":224,"v":1251.3},{"s":"MA60","i":228,"v":1244.4},{"s":"MA60","i":234,"v":1235.4},{"s":"MA60","i":240,"v":1227.4},{"s":"MA60","i":249,"v":1217.8},{"s":"MA60","i":254,"v":1214.1},{"s":"MA60","i":259,"v":1210.9},{"s":"MA60","i":264,"v":1207.2},{"s":"MA60","i":268,"v":1203.4},{"s":"MA60","i":271,"v":1200.8},{"s":"MA60","i":274,"v":1198.6},{"s":"MA60","i":280,"v":1198.1},{"s":"MA60","i":287,"v":1200.2},{"s":"MA60","i":293,"v":1200.8},{"s":"MA60","i":296,"v":1201.8},{"s":"MA60","i":299,"v":1204.5},
      {"s":"MA120","i":0,"v":1260.4},{"s":"MA120","i":12,"v":1263.1},{"s":"MA120","i":24,"v":1265.7},{"s":"MA120","i":37,"v":1269.4},{"s":"MA120","i":49,"v":1272.6},{"s":"MA120","i":61,"v":1276.4},{"s":"MA120","i":77,"v":1281.7},{"s":"MA120","i":92,"v":1285.9},{"s":"MA120","i":108,"v":1289.7},{"s":"MA120","i":117,"v":1291.8},{"s":"MA120","i":127,"v":1296.6},{"s":"MA120","i":137,"v":1300.3},{"s":"MA120","i":148,"v":1303.0},{"s":"MA120","i":158,"v":1303.5},{"s":"MA120","i":169,"v":1301.9},{"s":"MA120","i":184,"v":1300.3},{"s":"MA120","i":195,"v":1297.7},{"s":"MA120","i":200,"v":1296.6},{"s":"MA120","i":216,"v":1293.9},{"s":"MA120","i":231,"v":1289.7},{"s":"MA120","i":246,"v":1284.4},{"s":"MA120","i":262,"v":1277.4},{"s":"MA120","i":277,"v":1271.0},{"s":"MA120","i":293,"v":1265.7},{"s":"MA120","i":299,"v":1262.5}
    ],
    "marker": [{"i": 115}],
    "logo1": [{"t": "FX"}],
    "logo2": [{"t": "168"}]
  },
  "layer": [
    {
      "data": {"name": "logo1"},
      "mark": {"type": "text", "align": "right", "baseline": "alphabetic", "font": "DejaVu Sans", "fontWeight": "bold", "fontSize": 39, "color": "#f5b6a0"},
      "encoding": {
        "x": {"datum": 28.6, "type": "quantitative", "scale": {"domain": [-0.5, 316.8], "nice": false, "zero": false}, "axis": null},
        "y": {"datum": 1153.4, "type": "quantitative"},
        "text": {"field": "t"}
      }
    },
    {
      "data": {"name": "logo2"},
      "mark": {"type": "text", "align": "left", "baseline": "alphabetic", "font": "DejaVu Sans", "fontWeight": "bold", "fontSize": 39, "color": "#92b1c8"},
      "encoding": {
        "x": {"datum": 28.6, "type": "quantitative"},
        "y": {"datum": 1153.4, "type": "quantitative"},
        "text": {"field": "t"}
      }
    },
    {
      "data": {"name": "marker"},
      "mark": {"type": "rule", "color": "#9fd5e6", "strokeWidth": 1},
      "encoding": {"x": {"field": "i", "type": "quantitative"}}
    },
    {
      "data": {"name": "candles"},
      "mark": {"type": "rule", "strokeWidth": 1},
      "encoding": {
        "x": {"field": "i", "type": "quantitative"},
        "y": {
          "field": "l", "type": "quantitative",
          "scale": {"domain": [1147.0, 1372.2], "nice": false, "zero": false},
          "axis": {
            "orient": "right", "title": null, "domain": false, "grid": false,
            "values": [1149.66, 1162.25, 1174.84, 1187.43, 1200.02, 1212.61, 1225.20, 1237.79, 1250.38, 1262.97, 1275.55, 1288.14, 1300.73, 1313.32, 1325.91, 1338.50, 1351.09, 1363.68],
            "tickCount": 40,
            "format": ".2f", "labelFont": "Liberation Sans", "labelFontSize": 10.5, "labelColor": "#1a1a1a",
            "labelOverlap": false, "labelBound": false, "labelFlush": false,
            "tickColor": "#dddddd", "tickSize": 8, "tickOffset": 7, "labelOffset": -7, "labelPadding": -5
          }
        },
        "y2": {"field": "h"},
        "color": {"condition": {"test": "datum.c >= datum.o", "value": "#ff0000"}, "value": "#0be60b"}
      }
    },
    {
      "data": {"name": "candles"},
      "mark": {"type": "bar", "width": 3},
      "encoding": {
        "x": {"field": "i", "type": "quantitative"},
        "y": {"field": "o", "type": "quantitative"},
        "y2": {"field": "c"},
        "color": {"condition": {"test": "datum.c >= datum.o", "value": "#ff0000"}, "value": "#0be60b"}
      }
    },
    {
      "data": {"name": "ma"},
      "mark": {"type": "line", "interpolate": "monotone", "strokeWidth": 1.4},
      "encoding": {
        "x": {"field": "i", "type": "quantitative"},
        "y": {"field": "v", "type": "quantitative"},
        "color": {"field": "s", "type": "nominal", "legend": null,
          "scale": {"domain": ["MA5", "MA10", "MA20", "MA60", "MA120"], "range": ["#2f8ff0", "#eab185", "#ee2020", "#2cc6d4", "#a9c9de"]}},
        "order": {"field": "i", "type": "quantitative"}
      }
    }
  ]
}
